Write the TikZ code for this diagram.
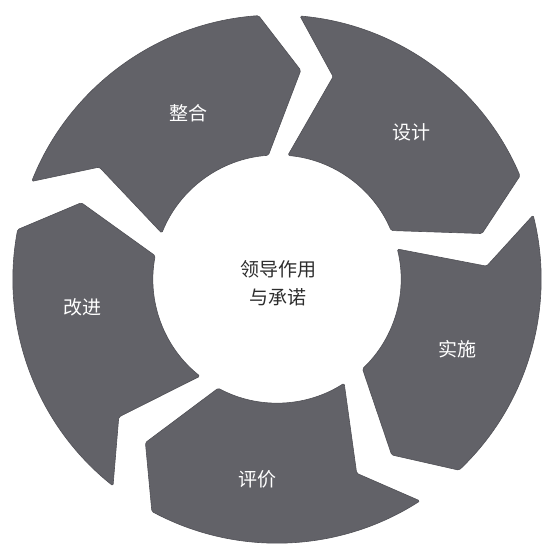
\documentclass[tikz,border=0pt]{standalone}
\usepackage{fontspec}
\newfontfamily\cjk{Noto Sans CJK SC}
\definecolor{segfill}{RGB}{98,98,104}
\definecolor{segedge}{RGB}{80,80,86}
\definecolor{ctext}{RGB}{45,45,45}
\newcommand\ringseg[2]{% #1 tail angle, #2 head angle
  \filldraw[seg] (#1:264pt) arc[start angle=#1, end angle=#2, radius=264pt]
    -- ({#2-10.5}:210pt) -- (#2:124pt)
    arc[start angle=#2, end angle=#1, radius=124pt]
    -- ({#1-10.5}:210pt) -- cycle;}
\begin{document}
\begin{tikzpicture}[x=1pt,y=1pt,
  seg/.style={fill=segfill, draw=segedge, line width=0.6pt, line join=round, rounded corners=1.5pt},
  lab/.style={text=white, font=\cjk\fontsize{19}{23}\selectfont, inner sep=0pt},
  ctr/.style={text=ctext, align=center, font=\cjk\fontsize{19}{28}\selectfont, inner sep=0pt}]
\useasboundingbox (0,0) rectangle (544,545);
\fill[white] (0,0) rectangle (544,545);
\begin{scope}[shift={(277,266)}]
  \ringseg{158.3}{94}
  \ringseg{85}{23}
  \ringseg{14}{-46.4}
  \ringseg{-57.2}{-118.3}
  \ringseg{231.6}{169.2}
\end{scope}
\node[lab] (zhenghe) at (188,432) {整合};
\node[lab] (sheji) at (411,413) {设计};
\node[lab] (shishi) at (457,196) {实施};
\node[lab] (pingjia) at (257,66) {评价};
\node[lab] (gaijin) at (82,238) {改进};
\node[ctr] (center) at (278,262) {领导作用\\与承诺};
\end{tikzpicture}
\end{document}
